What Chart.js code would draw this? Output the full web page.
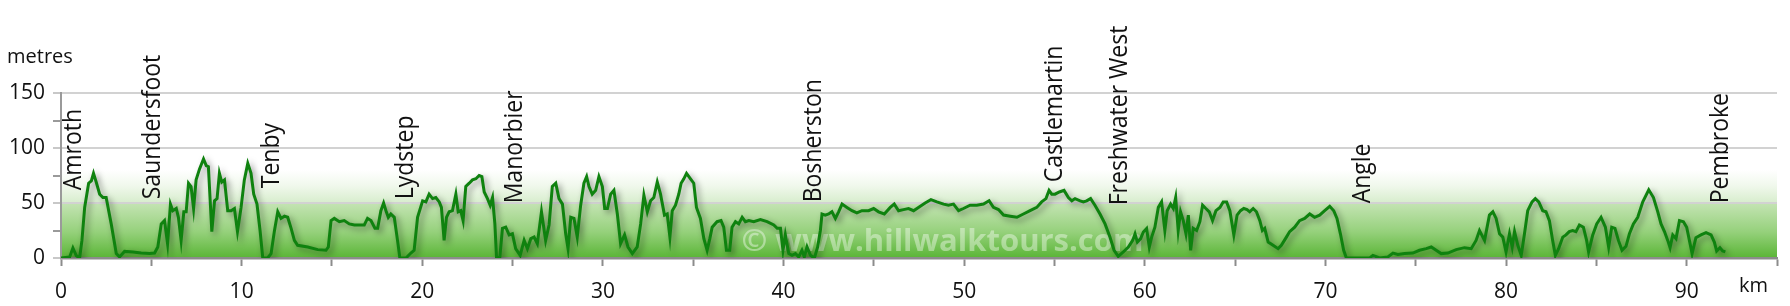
<!DOCTYPE html>
<html>
<head>
<meta charset="utf-8">
<script src="https://cdn.jsdelivr.net/npm/chart.js@4"></script>
<style>
  html, body { margin: 0; padding: 0; background: #ffffff; }
  canvas { display: block; }
</style>
</head>
<body>
<canvas id="profile" width="1790" height="306"></canvas>
<script>
"use strict";

// distance along the path (km) and height (m)
const distanceKm = [
    0, 0.48, 0.66, 0.85, 1.03, 1.16, 1.31, 1.53, 1.68, 1.8, 1.95, 2.14, 2.32, 2.5, 2.78, 3.06, 3.24, 3.52, 3.98, 4.44,
    4.9, 5.18, 5.36, 5.55, 5.73, 5.9, 6.06, 6.19, 6.38, 6.5, 6.65, 6.8, 6.93, 7.06, 7.2, 7.34, 7.48, 7.67, 7.89, 8.04,
    8.16, 8.35, 8.5, 8.64, 8.77, 8.9, 9.05, 9.23, 9.42, 9.6, 9.77, 9.97, 10.15, 10.34, 10.52, 10.67, 10.85, 11.02, 11.17, 11.44,
    11.63, 11.81, 12.0, 12.18, 12.37, 12.55, 12.74, 12.92, 13.1, 13.66, 14.21, 14.67, 14.8, 14.95, 15.13, 15.41, 15.68, 15.96, 16.24, 16.51,
    16.79, 16.97, 17.16, 17.38, 17.53, 17.71, 17.86, 17.99, 18.12, 18.26, 18.45, 18.63, 18.76, 19.1, 19.37, 19.55, 19.74, 20.02, 20.2, 20.38,
    20.57, 20.75, 20.94, 21.06, 21.21, 21.34, 21.49, 21.67, 21.86, 21.99, 22.13, 22.26, 22.41, 22.6, 22.78, 22.97, 23.15, 23.3, 23.43, 23.61,
    23.76, 23.89, 24.02, 24.11, 24.29, 24.44, 24.62, 24.81, 24.99, 25.17, 25.42, 25.64, 25.82, 26.01, 26.19, 26.37, 26.6, 26.83, 27.02, 27.2,
    27.39, 27.57, 27.76, 27.94, 28.07, 28.22, 28.4, 28.58, 28.77, 28.95, 29.1, 29.23, 29.41, 29.6, 29.78, 29.97, 30.1, 30.25, 30.43, 30.61,
    30.8, 30.98, 31.2, 31.39, 31.63, 31.9, 32.09, 32.27, 32.46, 32.64, 32.82, 33.01, 33.19, 33.41, 33.56, 33.71, 33.84, 34.02, 34.2, 34.33,
    34.48, 34.63, 34.85, 35.03, 35.18, 35.4, 35.59, 35.77, 35.92, 36.05, 36.32, 36.54, 36.69, 36.84, 37.02, 37.15, 37.34, 37.52, 37.71, 37.89,
    38.08, 38.35, 38.72, 39.09, 39.46, 39.65, 39.83, 39.97, 40.1, 40.29, 40.47, 40.66, 40.84, 41.02, 41.15, 41.3, 41.49, 41.71, 41.89, 42.04,
    42.13, 42.31, 42.5, 42.68, 42.87, 43.05, 43.24, 43.51, 43.79, 44.06, 44.34, 44.71, 44.99, 45.26, 45.58, 45.91, 46.13, 46.37, 46.64, 46.92,
    47.2, 47.47, 47.84, 48.16, 48.49, 48.86, 49.13, 49.41, 49.69, 49.96, 50.33, 50.7, 51.07, 51.38, 51.62, 51.9, 52.18, 52.55, 52.92, 53.28,
    53.65, 54.02, 54.29, 54.53, 54.7, 54.85, 55.03, 55.27, 55.53, 55.77, 55.96, 56.14, 56.42, 56.6, 56.78, 57.0, 57.24, 57.52, 57.8, 58.07,
    58.3, 58.53, 58.81, 59.09, 59.33, 59.46, 59.59, 59.77, 59.92, 60.1, 60.25, 60.38, 60.56, 60.75, 60.93, 61.11, 61.24, 61.43, 61.58, 61.71,
    61.85, 61.98, 62.13, 62.28, 62.41, 62.54, 62.68, 62.87, 63.05, 63.2, 63.38, 63.57, 63.75, 63.94, 64.16, 64.34, 64.53, 64.71, 64.93, 65.11,
    65.3, 65.48, 65.66, 65.81, 66.0, 66.18, 66.37, 66.51, 66.64, 66.83, 67.1, 67.38, 67.56, 67.84, 68.02, 68.3, 68.57, 68.85, 69.13, 69.4,
    69.68, 69.96, 70.24, 70.46, 70.64, 70.83, 71.01, 71.16, 71.72, 72.45, 72.63, 73.0, 73.46, 73.74, 74.01, 74.38, 74.84, 75.21, 75.58, 75.86,
    76.13, 76.41, 76.78, 77.24, 77.7, 78.07, 78.34, 78.53, 78.81, 79.08, 79.27, 79.45, 79.64, 79.82, 80.0, 80.19, 80.34, 80.47, 80.65, 80.84,
    81.02, 81.2, 81.44, 81.62, 81.81, 82.03, 82.21, 82.4, 82.58, 82.73, 82.91, 83.14, 83.32, 83.5, 83.69, 83.87, 84.06, 84.28, 84.46, 84.57,
    84.8, 85.02, 85.26, 85.5, 85.68, 85.85, 86.03, 86.22, 86.42, 86.64, 86.83, 87.05, 87.29, 87.57, 87.9, 88.16, 88.4, 88.58, 88.77, 88.95,
    89.08, 89.23, 89.41, 89.6, 89.82, 90.0, 90.15, 90.3, 90.51, 90.79, 91.07, 91.35, 91.53, 91.66, 91.84, 91.99, 92.14
];

const elevationM = [
    0, 1, 9, 2, 0, 16, 46, 68, 70, 77, 69, 58, 55, 55, 31, 4, 1, 6, 5.5, 4.5,
    4, 4.5, 10, 31, 34, 13, 49, 43, 45, 37, 16, 42, 42, 68, 65, 45, 71, 81, 90, 84,
    83, 24, 52, 54, 77, 69, 71, 43, 43, 45, 24, 46, 71, 86, 77, 58, 49, 25, 0, 0,
    4, 24, 42, 36, 38, 37, 27, 16, 11.5, 10, 7.6, 7, 10, 34, 36, 33, 34, 31, 30, 30,
    30, 36, 34, 27, 27, 43, 50, 43, 37, 40, 37, 16, 0, 0, 4.5, 7, 37, 52, 51, 58,
    54, 55, 51, 46, 16, 37, 42, 43, 58, 42, 43, 34, 65, 68, 71, 72, 75, 74, 60, 54,
    48, 55, 31, 1, 0, 27, 28, 21, 22, 8.5, 2.4, 16, 8.5, 17.6, 19, 13, 42, 16, 30, 65,
    68, 54, 49, 22, 8.5, 37, 36, 19, 48, 68, 74, 65, 58, 61.5, 74, 65, 45, 45, 58, 61.5,
    40, 13, 21, 10, 4, 10, 31, 57, 42, 52, 55, 69, 58, 39, 40, 19, 43, 48, 58, 68,
    72, 77, 72, 68, 46, 36, 17.6, 7, 17.6, 28, 33, 34, 28, 7, 7, 28, 33, 31, 37, 33,
    34, 33, 35, 33, 30, 27, 27, 7, 21, 4, 2.4, 4, 1, 7, 1, 10, 2.4, 0, 10, 25,
    40, 39, 40, 42, 36, 42, 49, 46, 43, 41, 43, 43, 45, 42, 40, 46, 49, 43, 44, 45,
    43, 46, 50, 53, 51, 49, 48, 49, 43, 45, 48, 48, 49, 52, 46, 44, 39, 38, 37, 40,
    43, 46, 51, 54, 61.5, 58, 58, 60, 61.5, 55, 52, 54, 52, 51, 52, 54, 48, 40, 31, 19,
    7, 1.5, 5.5, 10, 16, 22, 14.5, 17.6, 23.6, 26.7, 10, 19, 28, 46, 51, 25, 43, 49, 45, 55,
    25, 42, 34, 22, 39, 7, 27, 25, 33, 48, 45, 42, 34, 43, 46, 51, 51, 43, 21, 39,
    43, 45, 44, 42, 45, 42, 34, 25, 27, 14.5, 11.5, 8.5, 11.5, 19, 24, 28, 34, 36, 40, 37,
    39, 43, 47, 43, 36, 22, 7, 0, 0, 0, 2.4, 0, 1, 4.5, 3.3, 4, 4.5, 7, 8.5, 10,
    7, 4, 4.5, 7.6, 9.4, 8.5, 16, 25, 16, 39, 42, 36, 22, 19, 5.5, 22, 10, 24, 11.5, 2.4,
    22, 43, 51, 54, 51, 43, 42, 34, 16, 2.4, 8.5, 19, 21, 24, 25, 24, 30, 28, 16, 5.5,
    21, 31, 37, 28, 10, 28, 27, 16, 7, 10.6, 22, 31, 37, 51, 62, 55, 42, 31, 24, 16,
    9.4, 21, 17.6, 34, 33, 28, 16, 4, 18.5, 21, 23, 21, 14.5, 6.4, 9.4, 6.4, 5.5
];

// places along the way and the height at which each name starts
const placeNames = ['Amroth', 'Saundersfoot', 'Tenby', 'Lydstep', 'Manorbier', 'Bosherston',
    'Castlemartin', 'Freshwater West', 'Angle', 'Pembroke'];
const placeKm = [0.7, 5.1, 11.65, 19.1, 25.1, 41.7, 55.0, 58.6, 72.05, 91.9];
const placeLabelM = [61.5, 53.4, 63.4, 53.4, 49.7, 50.6, 68.8, 47.9, 49.7, 49.7];

const yTickValues = [0, 50, 100, 150];
const xLabelEvery = 10;
const xMaxKm = 95;

const FONT = "'Open Sans', 'DejaVu Sans', sans-serif";

const points = distanceKm.map((d, i) => ({x: d, y: elevationM[i]}));

// green backdrop, shadow under the line, watermark and place names
const profileDecor = {
    id: 'profileDecor',
    beforeDraw(chart) {
        const {ctx, chartArea, scales} = chart;
        const y0 = scales.y.getPixelForValue(0);
        const yTop = scales.y.getPixelForValue(80);
        const g = ctx.createLinearGradient(0, y0, 0, yTop);
        g.addColorStop(0, '#5ab536');
        g.addColorStop(0.3, '#96d17c');
        g.addColorStop(0.61, '#c2e3b1');
        g.addColorStop(0.64, '#d9eecf');
        g.addColorStop(0.82, '#f0f8ec');
        g.addColorStop(1, '#ffffff');
        ctx.save();
        ctx.fillStyle = g;
        ctx.fillRect(chartArea.left, yTop, chartArea.right - chartArea.left, y0 - yTop);
        ctx.restore();
    },
    beforeDatasetsDraw(chart) {
        const {ctx, scales} = chart;
        ctx.save();
        ctx.font = 'bold 31px ' + FONT;
        ctx.fillStyle = 'rgba(255,255,255,0.4)';
        ctx.textAlign = 'center';
        ctx.textBaseline = 'alphabetic';
        ctx.fillText('\u00A9 www.hillwalktours.com', scales.x.getPixelForValue(48.8), scales.y.getPixelForValue(6.5));
        ctx.restore();
    },
    beforeDatasetDraw(chart) {
        const ctx = chart.ctx;
        ctx.save();
        ctx.shadowColor = 'rgba(0,0,0,0.4)';
        ctx.shadowBlur = 6;
        ctx.shadowOffsetX = 3;
        ctx.shadowOffsetY = 3;
    },
    afterDatasetDraw(chart) {
        chart.ctx.restore();
    },
    afterDraw(chart) {
        const {ctx, scales, chartArea} = chart;
        ctx.save();
        ctx.fillStyle = '#111111';

        // place names, written upwards
        ctx.font = '23px ' + FONT;
        ctx.textAlign = 'left';
        ctx.textBaseline = 'middle';
        placeNames.forEach((name, i) => {
            const px = scales.x.getPixelForValue(placeKm[i]);
            const py = scales.y.getPixelForValue(placeLabelM[i]);
            ctx.save();
            ctx.translate(px, py);
            ctx.rotate(-Math.PI / 2);
            ctx.scale(1, 1.1);
            ctx.fillText(name, 0, 0);
            ctx.restore();
        });

        // axis titles
        ctx.font = '20px ' + FONT;
        ctx.textBaseline = 'alphabetic';
        ctx.textAlign = 'left';
        ctx.fillText('metres', 7, 63);
        ctx.fillText('km', chartArea.right - 38, 292);
        ctx.restore();
    }
};

new Chart(document.getElementById('profile'), {
    type: 'line',
    data: {
        datasets: [{
            label: 'height',
            data: points,
            borderColor: '#0f820f',
            borderWidth: 3,
            pointRadius: 0,
            fill: false,
            tension: 0
        }]
    },
    plugins: [profileDecor],
    options: {
        responsive: false,
        animation: false,
        layout: {
            padding: {top: 93, right: 11, left: 0, bottom: 0}
        },
        plugins: {
            legend: {display: false},
            tooltip: {enabled: false}
        },
        scales: {
            x: {
                type: 'linear',
                min: 0,
                max: xMaxKm,
                afterFit: scale => { scale.height = 48; },
                border: {color: '#8c8c8c', width: 2.5},
                grid: {
                    color: 'transparent',
                    drawTicks: true,
                    tickLength: 8,
                    tickColor: '#8c8c8c',
                    tickWidth: 2
                },
                ticks: {
                    stepSize: 5,
                    autoSkip: false,
                    maxRotation: 0,
                    padding: 13,
                    color: '#111111',
                    font: {family: FONT, size: 21},
                    callback: v => (v % xLabelEvery === 0 ? String(v) : '')
                }
            },
            y: {
                min: 0,
                max: 150,
                afterFit: scale => { scale.width = 61; },
                border: {color: '#9a9a9a', width: 2},
                grid: {
                    color: ctx => (ctx.tick && ctx.tick.value > 0 && yTickValues.includes(ctx.tick.value)) ? '#d2d2d2' : 'transparent',
                    lineWidth: 2,
                    drawTicks: true,
                    tickLength: 8,
                    tickColor: ctx => (ctx.tick && yTickValues.includes(ctx.tick.value)) ? '#c8c8c8' : '#9a9a9a',
                    tickWidth: 2
                },
                ticks: {
                    stepSize: 25,
                    autoSkip: false,
                    padding: 8,
                    color: '#111111',
                    font: {family: FONT, size: 21},
                    callback: v => (yTickValues.includes(v) ? String(v) : '')
                }
            }
        }
    }
});
</script>
</body>
</html>
